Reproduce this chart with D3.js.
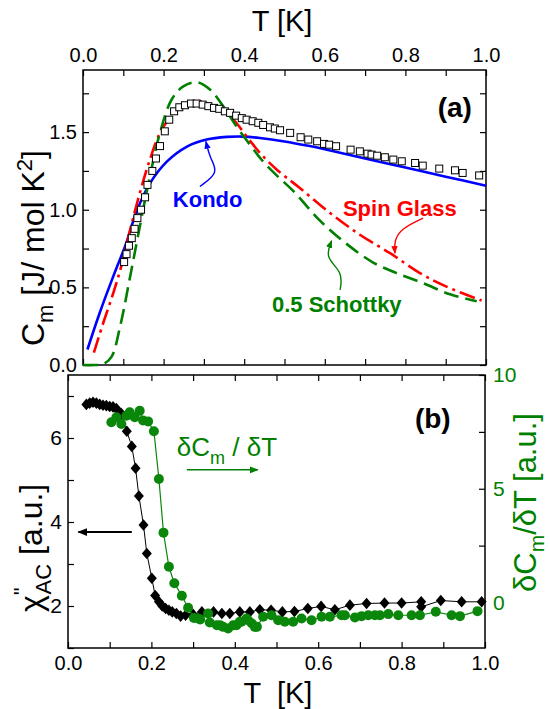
<!DOCTYPE html>
<html><head><meta charset="utf-8">
<script src="https://cdn.jsdelivr.net/npm/d3@7"></script>
<style>
body{margin:0;background:#fff}
svg{display:block}
text{font-family:"Liberation Sans",Arial,Helvetica,sans-serif}
</style>
</head><body>
<svg id="c" width="550" height="709"></svg>
<script>
// ---------- Panel (a): specific heat ----------
const measT = [0.102,0.108,0.114,0.121,0.128,0.135,0.144,0.154,0.160,0.172,0.181,0.191,0.203,0.214,0.226,0.239,0.253,0.268,0.282,0.297,0.311,0.325,0.338,0.352,0.365,0.380,0.394,0.406,0.421,0.435,0.447,0.464,0.476,0.489,0.514,0.540,0.559,0.581,0.598,0.611,0.628,0.664,0.687,0.706,0.716,0.730,0.749,0.770,0.791,0.824,0.843,0.884,0.923,0.942,0.983];
const measC = [0.663,0.714,0.768,0.817,0.877,0.946,1.000,1.080,1.160,1.250,1.330,1.410,1.505,1.580,1.634,1.660,1.673,1.684,1.684,1.677,1.667,1.656,1.650,1.634,1.624,1.606,1.590,1.580,1.570,1.560,1.546,1.531,1.523,1.512,1.495,1.467,1.452,1.441,1.424,1.419,1.409,1.387,1.376,1.361,1.355,1.348,1.338,1.323,1.312,1.301,1.284,1.265,1.254,1.237,1.221];

const kondoT = [0.011,0.042,0.075,0.108,0.133,0.166,0.208,0.257,0.307,0.357,0.398,0.439,0.500,0.563,0.600,0.700,0.800,0.900,1.000];
const kondoC = [0.100,0.340,0.570,0.790,0.990,1.170,1.310,1.405,1.452,1.469,1.471,1.462,1.440,1.410,1.390,1.330,1.272,1.213,1.155];

const spinT = [0.027,0.050,0.075,0.096,0.117,0.141,0.166,0.191,0.216,0.249,0.282,0.307,0.340,0.373,0.406,0.439,0.481,0.538,0.613,0.687,0.762,0.836,0.902,0.989];
const spinC = [0.080,0.269,0.462,0.645,0.871,1.108,1.323,1.495,1.591,1.667,1.699,1.688,1.645,1.580,1.473,1.366,1.258,1.140,0.979,0.839,0.720,0.592,0.505,0.415];

const schT = [0.000,0.030,0.050,0.071,0.092,0.117,0.141,0.166,0.191,0.220,0.249,0.282,0.315,0.348,0.381,0.414,0.447,0.481,0.522,0.588,0.654,0.720,0.778,0.844,0.911,0.977];
const schC = [0.000,0.000,0.005,0.054,0.247,0.570,0.892,1.215,1.495,1.710,1.795,1.821,1.774,1.667,1.537,1.420,1.310,1.220,1.120,0.930,0.780,0.660,0.592,0.527,0.455,0.410];

// ---------- Panel (b): chi'' and dCm/dT ----------
const chiT = [0.044,0.052,0.060,0.068,0.076,0.084,0.092,0.100,0.108,0.116,0.128,0.141,0.153,0.162,0.170,0.181,0.189,0.201,0.209,0.218,0.226,0.234,0.242,0.250,0.260,0.270,0.282,0.300,0.321,0.349,0.369,0.388,0.412,0.436,0.460,0.487,0.514,0.543,0.575,0.607,0.640,0.676,0.716,0.759,0.800,0.847,0.847,0.894,0.944,0.992];
const chiV = [6.80,6.83,6.85,6.83,6.80,6.78,6.77,6.75,6.74,6.70,6.58,6.16,5.80,5.28,4.62,3.93,3.25,2.66,2.25,2.10,2.00,1.94,1.90,1.86,1.82,1.76,1.78,1.80,1.86,1.86,1.82,1.82,1.86,1.86,1.91,1.90,1.86,1.87,1.94,1.99,1.91,2.02,2.06,2.07,2.07,2.10,1.98,2.13,2.10,2.10];

const dT = [0.104,0.116,0.128,0.140,0.148,0.160,0.172,0.180,0.192,0.206,0.218,0.229,0.242,0.255,0.273,0.288,0.302,0.312,0.317,0.336,0.340,0.357,0.365,0.372,0.384,0.396,0.404,0.412,0.416,0.428,0.432,0.441,0.448,0.453,0.468,0.488,0.504,0.520,0.540,0.560,0.584,0.608,0.628,0.656,0.664,0.688,0.704,0.720,0.736,0.748,0.768,0.792,0.824,0.844,0.882,0.920,0.940,0.982];
const dV = [7.92,8.14,7.85,8.21,8.36,8.14,8.43,8.00,7.96,7.53,5.43,3.07,1.57,0.85,0.30,-0.23,-0.68,-0.70,-0.75,-0.48,-0.88,-1.00,-1.00,-1.07,-1.14,-1.00,-1.00,-0.85,-0.85,-0.70,-0.78,-0.92,-1.07,-1.07,-0.63,-0.56,-0.78,-0.85,-0.85,-0.70,-0.78,-0.63,-0.63,-0.56,-0.56,-0.66,-0.60,-0.56,-0.56,-0.56,-0.51,-0.56,-0.56,-0.56,-0.41,-0.56,-0.60,-0.38];

// tick values
const tTicks = [0,0.1,0.2,0.3,0.4,0.5,0.6,0.7,0.8,0.9,1.0];
const tLabels = [0,0.2,0.4,0.6,0.8,1.0];
const cTicks = [0,0.25,0.5,0.75,1.0,1.25,1.5,1.75];
const cLabels = [0,0.5,1.0,1.5];
const chiTicks = [1,2,3,4,5,6,7];
const chiLabels = [2,4,6];
const dTicks = [0,2.5,5,7.5,10];
const dLabels = [0,5,10];

const BLUE="#0000ff", RED="#ff0000", GREEN="#007f00", GREEN2="#0a870a";

const svg = d3.select("#c");
const defs = svg.append("defs");
function marker(id,color,size){
  defs.append("marker").attr("id",id).attr("viewBox","0 0 10 10").attr("refX",9).attr("refY",5)
    .attr("markerWidth",size).attr("markerHeight",size).attr("orient","auto-start-reverse")
    .attr("markerUnits","userSpaceOnUse")
    .append("path").attr("d","M0,1 L10,5 L0,9 z").attr("fill",color);
}
marker("mb",BLUE,8); marker("mr",RED,8); marker("mg",GREEN,8); marker("mk","#000",10); marker("mg2",GREEN,9);

// scales
const xa = d3.scaleLinear().domain([0,1]).range([83,486]);
const ya = d3.scaleLinear().domain([0,1.9]).range([365,70]);
const xb = d3.scaleLinear().domain([0,1]).range([68,485]);
const ybL = d3.scaleLinear().domain([1,7.5]).range([648,375]);
const ybR = d3.scaleLinear().domain([-2,10]).range([648,375]);

function fmt(labels, f){ return v => labels.some(l=>Math.abs(l-v)<1e-9) ? f(v) : ""; }
function styleAxis(g, size, color){
  g.select(".domain").remove();
  g.selectAll(".tick line").attr("stroke","#000").attr("stroke-width",1.2);
  g.selectAll(".tick text").attr("font-size",size).attr("fill",color||"#000")
   .attr("font-family",'"Liberation Sans",Arial,sans-serif');
}
const TS = 20;
// ----- panel (a) axes -----
svg.append("g").attr("transform","translate(0,70)")
  .call(d3.axisTop(xa).tickValues(tTicks).tickSize(-6).tickPadding(8).tickFormat(fmt(tLabels,d3.format(".1f"))))
  .call(g=>styleAxis(g,TS));
svg.append("g").attr("transform","translate(0,365)")
  .call(d3.axisBottom(xa).tickValues(tTicks).tickSize(-6).tickFormat(""))
  .call(g=>styleAxis(g,TS));
svg.append("g").attr("transform","translate(83,0)")
  .call(d3.axisLeft(ya).tickValues(cTicks).tickSize(-6).tickPadding(6).tickFormat(fmt(cLabels,d3.format(".1f"))))
  .call(g=>styleAxis(g,TS));
svg.append("g").attr("transform","translate(486,0)")
  .call(d3.axisRight(ya).tickValues(cTicks).tickSize(-6).tickFormat(""))
  .call(g=>styleAxis(g,TS));
svg.append("rect").attr("x",83).attr("y",70).attr("width",403).attr("height",295)
  .attr("fill","none").attr("stroke","#000").attr("stroke-width",1.5);

// ----- panel (b) axes -----
svg.append("g").attr("transform","translate(0,648)")
  .call(d3.axisBottom(xb).tickValues(tTicks).tickSize(-6).tickPadding(8).tickFormat(fmt(tLabels,d3.format(".1f"))))
  .call(g=>styleAxis(g,TS));
svg.append("g").attr("transform","translate(0,375)")
  .call(d3.axisTop(xb).tickValues(tTicks).tickSize(-6).tickFormat(""))
  .call(g=>styleAxis(g,TS));
svg.append("g").attr("transform","translate(68,0)")
  .call(d3.axisLeft(ybL).tickValues(chiTicks).tickSize(-6).tickPadding(6).tickFormat(fmt(chiLabels,d3.format("d"))))
  .call(g=>styleAxis(g,21));
svg.append("g").attr("transform","translate(485,0)")
  .call(d3.axisRight(ybR).tickValues(dTicks).tickSize(-6).tickPadding(8).tickFormat(fmt(dLabels,d3.format("d"))))
  .call(g=>styleAxis(g,21,GREEN));
svg.append("rect").attr("x",68).attr("y",375).attr("width",417).attr("height",273)
  .attr("fill","none").attr("stroke","#000").attr("stroke-width",1.5);

// ----- panel (a) data -----
const pa = svg.append("g");
const lineA = (T,C)=> d3.line().x(i=>xa(T[i])).y(i=>ya(C[i])).curve(d3.curveCatmullRom.alpha(0.5))(d3.range(T.length));
pa.append("path").attr("d",lineA(kondoT,kondoC)).attr("fill","none").attr("stroke",BLUE).attr("stroke-width",2.6);
pa.append("path").attr("d",lineA(spinT,spinC)).attr("fill","none").attr("stroke",RED).attr("stroke-width",2.6)
  .attr("stroke-dasharray","16,5,3,5");
pa.append("path").attr("d",lineA(schT,schC)).attr("fill","none").attr("stroke",GREEN).attr("stroke-width",2.6)
  .attr("stroke-dasharray","15,7");
pa.selectAll("rect.m").data(d3.range(measT.length)).join("rect").attr("class","m")
  .attr("x",i=>xa(measT[i])-3.5).attr("y",i=>ya(measC[i])-3.5).attr("width",7).attr("height",7)
  .attr("fill","#fff").attr("stroke","#000").attr("stroke-width",1);

// annotations (a)
const curv = d3.line().curve(d3.curveBasis);
function annPath(pts, xs, ys, color, mk, w){
  svg.append("path").attr("d",curv(pts.map(p=>[xs(p[0]),ys(p[1])])))
    .attr("fill","none").attr("stroke",color).attr("stroke-width",w||1.4).attr("marker-end","url(#"+mk+")");
}
annPath([[0.290,1.150],[0.338,1.240],[0.315,1.330],[0.305,1.440]], xa, ya, BLUE, "mb");
annPath([[0.844,0.946],[0.790,0.880],[0.772,0.800],[0.774,0.720]], xa, ya, RED, "mr");
annPath([[0.638,0.484],[0.645,0.600],[0.600,0.690],[0.617,0.800]], xa, ya, GREEN, "mg");

function txt(x,y,s,size,color,weight,anchor){
  return svg.append("text").attr("x",x).attr("y",y).text(s).attr("font-size",size)
    .attr("fill",color).attr("font-weight",weight||"normal").attr("text-anchor",anchor||"start");
}
txt(xa(0.223),ya(1.02),"Kondo",22,BLUE,"bold");
txt(xa(0.645),ya(0.961),"Spin Glass",22,RED,"bold");
txt(xa(0.469),ya(0.342),"0.5 Schottky",22,GREEN,"bold");
txt(xa(0.880),ya(1.60),"(a)",28,"#000","bold");

// ----- panel (b) data -----
const pb = svg.append("g");
const lineB = (T,V,ys)=> d3.line().x(i=>xb(T[i])).y(i=>ys(V[i]))(d3.range(T.length));
pb.append("path").attr("d",lineB(chiT,chiV,ybL)).attr("fill","none").attr("stroke","#000").attr("stroke-width",1);
const diamond = {draw(ctx,size){ const w=5, h=5.8; ctx.moveTo(0,-h); ctx.lineTo(w,0); ctx.lineTo(0,h); ctx.lineTo(-w,0); ctx.closePath(); }};
pb.selectAll("path.d").data(d3.range(chiT.length)).join("path").attr("class","d")
  .attr("d",d3.symbol(diamond)).attr("transform",i=>`translate(${xb(chiT[i])},${ybL(chiV[i])})`).attr("fill","#000");
pb.append("path").attr("d",lineB(dT,dV,ybR)).attr("fill","none").attr("stroke",GREEN2).attr("stroke-width",1.2);
pb.selectAll("circle").data(d3.range(dT.length)).join("circle")
  .attr("cx",i=>xb(dT[i])).attr("cy",i=>ybR(dV[i])).attr("r",5).attr("fill",GREEN2);

// annotations (b)
svg.append("line").attr("x1",xb(0.153)).attr("x2",xb(0.025)).attr("y1",ybL(3.76)).attr("y2",ybL(3.76))
  .attr("stroke","#000").attr("stroke-width",2).attr("marker-end","url(#mk)");
svg.append("line").attr("x1",xb(0.285)).attr("x2",xb(0.455)).attr("y1",ybR(5.83)).attr("y2",ybR(5.83))
  .attr("stroke",GREEN).attr("stroke-width",1.5).attr("marker-end","url(#mg2)");
const gt = txt(xb(0.261),ybR(6.46),"",26,GREEN);
gt.append("tspan").text("δC");
gt.append("tspan").text("m").attr("font-size",18).attr("dy",8);
gt.append("tspan").text(" / δT").attr("dy",-8);
txt(xb(0.832),ybL(6.23),"(b)",28,"#000","bold");

// ----- axis titles -----
txt(282,31,"T [K]",29,"#000","normal","middle");
txt(278,703,"T  [K]",29,"#000","normal","middle").attr("xml:space","preserve").style("white-space","pre");

const la = svg.append("text").attr("transform","translate(44,346) rotate(-90)").attr("font-size",32).attr("fill","#000");
la.append("tspan").text("C");
la.append("tspan").text("m").attr("font-size",22).attr("dy",9);
la.append("tspan").text(" [J/ mol K").attr("dy",-9);
la.append("tspan").text("2").attr("font-size",22).attr("dy",-12);
la.append("tspan").text("]").attr("dy",12);

const lb = svg.append("text").attr("transform","translate(42,612) rotate(-90)").attr("font-size",32).attr("fill","#000");
lb.append("tspan").text("χ");
lb.append("tspan").text("\"").attr("font-size",22).attr("dy",-13);
lb.append("tspan").text("AC").attr("font-size",22).attr("dy",22).attr("dx",-7);
lb.append("tspan").text(" [a.u.]").attr("dy",-9);

const lr = svg.append("text").attr("transform","translate(536,592) rotate(-90)").attr("font-size",31).attr("fill",GREEN);
lr.append("tspan").text("δC");
lr.append("tspan").text("m").attr("font-size",21).attr("dy",8);
lr.append("tspan").text("/δT [a.u.]").attr("dy",-8);
</script>
</body></html>
